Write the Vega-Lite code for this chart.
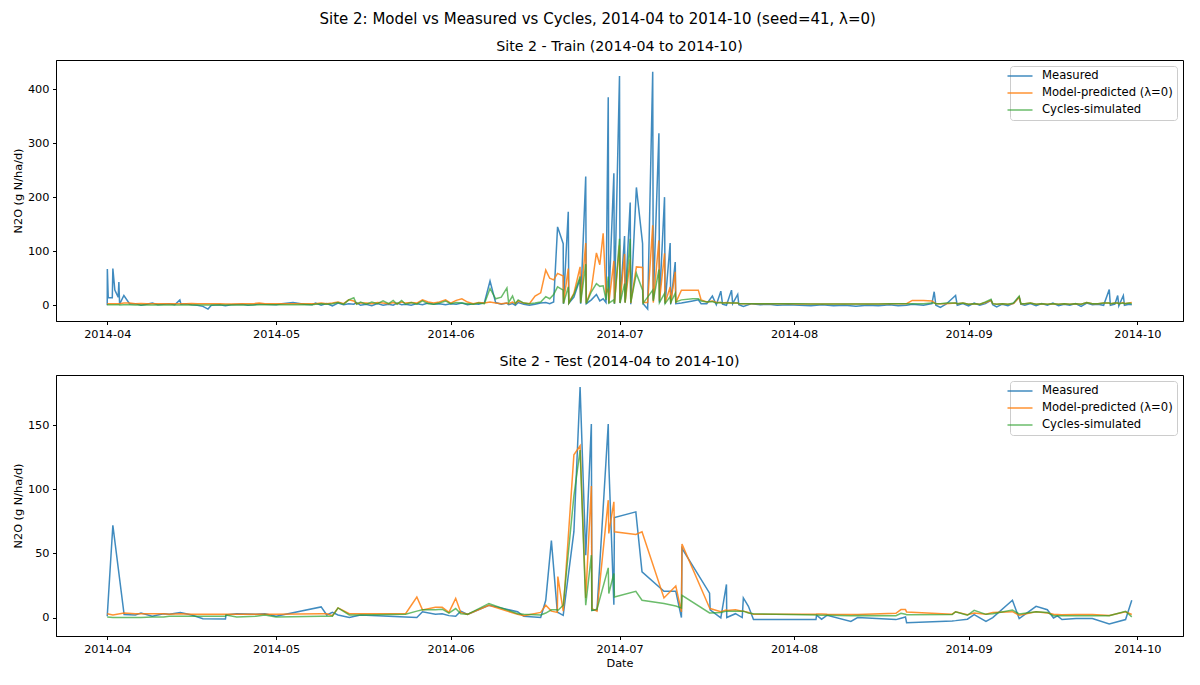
{
  "$schema": "https://vega.github.io/schema/vega-lite/v6.json",
  "background": "white",
  "padding": {"left": 11, "top": 12, "right": 13, "bottom": 11},
  "title": {"text": "Site 2: Model vs Measured vs Cycles, 2014-04 to 2014-10 (seed=41, λ=0)", "fontSize": 15, "font": "DejaVu Sans", "fontWeight": "normal", "color": "black", "anchor": "middle", "offset": 12},
  "config": {
    "font": "DejaVu Sans",
    "view": {"stroke": "black", "strokeWidth": 1},
    "axis": {"grid": false, "domainColor": "black", "tickColor": "black", "labelColor": "black", "titleColor": "black", "tickSize": 3.5, "labelPadding": 3.5, "labelFont": "DejaVu Sans", "labelFontSize": 11.3, "titleFont": "DejaVu Sans", "titleFontSize": 11.3, "titleFontWeight": "normal", "domainWidth": 1, "tickWidth": 1},
    "title": {"fontSize": 14.2, "fontWeight": "normal", "font": "DejaVu Sans", "color": "black", "offset": 6},
    "legend": {"orient": "top-right", "offset": 6, "title": null, "symbolType": "M-2.5,0L2.5,0", "symbolSize": 100, "symbolStrokeWidth": 1.5, "labelFont": "DejaVu Sans", "labelFontSize": 11.6, "labelColor": "black", "fillColor": "rgba(255,255,255,0.8)", "strokeColor": "#cccccc", "cornerRadius": 3, "padding": 4, "rowPadding": 5, "labelOffset": 16, "labelLimit": 300}
  },
  "spacing": 14,
  "resolve": {"scale": {"x": "independent", "y": "independent", "color": "independent"}, "legend": {"color": "independent"}},
  "vconcat": [
    {
      "title": {"text": "Site 2 - Train (2014-04 to 2014-10)"},
      "width": 1127,
      "height": 261,
      "data": {
        "format": {"parse": {"date": "utc:'%Y-%m-%d %H:%M'"}},
        "values": [
          {"date":"2014-04-01 00:00","measured":0,"model":3,"cycles":1},
          {"date":"2014-04-01 00:30","measured":67,"model":3,"cycles":1},
          {"date":"2014-04-01 04:20","measured":14,"model":3,"cycles":1},
          {"date":"2014-04-01 21:36","measured":14,"model":3,"cycles":1},
          {"date":"2014-04-02 00:00","measured":68,"model":3,"cycles":1},
          {"date":"2014-04-02 08:24","measured":28,"model":3,"cycles":1},
          {"date":"2014-04-02 22:48","measured":15,"model":3,"cycles":1},
          {"date":"2014-04-03 01:41","measured":43,"model":3,"cycles":1},
          {"date":"2014-04-03 04:48","measured":2,"model":3,"cycles":0.5},
          {"date":"2014-04-03 23:02","measured":18,"model":4,"cycles":1},
          {"date":"2014-04-04 23:02","measured":3,"model":4,"cycles":1},
          {"date":"2014-04-06 00:00","measured":3,"model":3,"cycles":0.5},
          {"date":"2014-04-07 00:00","measured":0,"model":3.5,"cycles":0.5},
          {"date":"2014-04-08 00:00","measured":2,"model":3,"cycles":0.5},
          {"date":"2014-04-09 00:00","measured":4,"model":3,"cycles":0.5},
          {"date":"2014-04-10 00:00","measured":1,"model":3,"cycles":0.5},
          {"date":"2014-04-11 00:00","measured":2,"model":3,"cycles":0.5},
          {"date":"2014-04-12 00:00","measured":3,"model":3,"cycles":0.5},
          {"date":"2014-04-13 00:00","measured":1,"model":3,"cycles":0.5},
          {"date":"2014-04-13 21:36","measured":10,"model":3,"cycles":0.5},
          {"date":"2014-04-14 02:24","measured":2,"model":3,"cycles":0.5},
          {"date":"2014-04-15 00:00","measured":3,"model":3,"cycles":0.5},
          {"date":"2014-04-16 00:00","measured":1,"model":3.5,"cycles":0.5},
          {"date":"2014-04-17 00:00","measured":0,"model":3,"cycles":0.5},
          {"date":"2014-04-18 00:00","measured":-2,"model":3,"cycles":0.5},
          {"date":"2014-04-18 21:36","measured":-7,"model":3,"cycles":0.5},
          {"date":"2014-04-19 12:00","measured":0,"model":3,"cycles":0.5},
          {"date":"2014-04-21 00:00","measured":1,"model":3,"cycles":0.5},
          {"date":"2014-04-22 00:00","measured":-1,"model":2.5,"cycles":0.5},
          {"date":"2014-04-23 00:00","measured":1,"model":2.5,"cycles":0.5},
          {"date":"2014-04-25 00:00","measured":2,"model":3,"cycles":0.5},
          {"date":"2014-04-26 00:00","measured":0,"model":3,"cycles":0.5},
          {"date":"2014-04-27 00:00","measured":1,"model":3,"cycles":0.5},
          {"date":"2014-04-28 00:00","measured":3,"model":4,"cycles":1},
          {"date":"2014-04-29 00:00","measured":2,"model":3,"cycles":1},
          {"date":"2014-05-01 00:00","measured":1,"model":3,"cycles":1},
          {"date":"2014-05-02 00:00","measured":3,"model":3,"cycles":1},
          {"date":"2014-05-04 00:00","measured":5,"model":3,"cycles":1},
          {"date":"2014-05-06 00:00","measured":2,"model":3,"cycles":1.5},
          {"date":"2014-05-07 09:36","measured":1,"model":3,"cycles":1},
          {"date":"2014-05-08 00:00","measured":4,"model":3,"cycles":2},
          {"date":"2014-05-09 00:00","measured":0,"model":4,"cycles":3},
          {"date":"2014-05-10 00:00","measured":3,"model":3,"cycles":2},
          {"date":"2014-05-11 00:00","measured":-1,"model":4,"cycles":3},
          {"date":"2014-05-12 00:00","measured":4,"model":6,"cycles":5},
          {"date":"2014-05-13 00:00","measured":1,"model":3,"cycles":2},
          {"date":"2014-05-13 21:36","measured":3,"model":10,"cycles":10},
          {"date":"2014-05-14 19:12","measured":2,"model":8,"cycles":14},
          {"date":"2014-05-15 07:12","measured":5,"model":3,"cycles":2},
          {"date":"2014-05-16 00:00","measured":0,"model":4,"cycles":6},
          {"date":"2014-05-17 00:00","measured":2,"model":4,"cycles":2},
          {"date":"2014-05-18 00:00","measured":-1,"model":3,"cycles":6},
          {"date":"2014-05-19 00:00","measured":3,"model":5,"cycles":3},
          {"date":"2014-05-20 00:00","measured":0,"model":4,"cycles":8},
          {"date":"2014-05-21 00:00","measured":2,"model":3,"cycles":3},
          {"date":"2014-05-21 19:12","measured":0,"model":5,"cycles":9},
          {"date":"2014-05-22 12:00","measured":4,"model":3,"cycles":2},
          {"date":"2014-05-23 07:12","measured":1,"model":6,"cycles":9},
          {"date":"2014-05-24 00:00","measured":2,"model":4,"cycles":2},
          {"date":"2014-05-25 00:00","measured":0,"model":5,"cycles":5},
          {"date":"2014-05-26 00:00","measured":3,"model":4,"cycles":2},
          {"date":"2014-05-27 00:00","measured":1,"model":10,"cycles":8},
          {"date":"2014-05-28 00:00","measured":4,"model":6,"cycles":3},
          {"date":"2014-05-29 00:00","measured":2,"model":4,"cycles":2},
          {"date":"2014-05-30 00:00","measured":3,"model":6,"cycles":4},
          {"date":"2014-05-31 02:24","measured":1,"model":10,"cycles":8},
          {"date":"2014-06-01 00:00","measured":3,"model":4,"cycles":3},
          {"date":"2014-06-02 00:00","measured":2,"model":9,"cycles":5},
          {"date":"2014-06-03 00:00","measured":4,"model":12,"cycles":4},
          {"date":"2014-06-04 00:00","measured":1,"model":6,"cycles":3},
          {"date":"2014-06-05 00:00","measured":3,"model":3,"cycles":2},
          {"date":"2014-06-06 00:00","measured":2,"model":5,"cycles":4},
          {"date":"2014-06-07 00:00","measured":5,"model":4,"cycles":3},
          {"date":"2014-06-08 00:00","measured":45,"model":6,"cycles":31},
          {"date":"2014-06-09 00:00","measured":5,"model":4,"cycles":12},
          {"date":"2014-06-10 00:00","measured":2,"model":3,"cycles":15},
          {"date":"2014-06-11 00:00","measured":4,"model":4,"cycles":32},
          {"date":"2014-06-11 07:12","measured":1,"model":3,"cycles":5},
          {"date":"2014-06-12 00:00","measured":3,"model":6,"cycles":17},
          {"date":"2014-06-12 12:00","measured":0,"model":3,"cycles":3},
          {"date":"2014-06-13 00:00","measured":5,"model":8,"cycles":10},
          {"date":"2014-06-14 00:00","measured":2,"model":4,"cycles":4},
          {"date":"2014-06-15 00:00","measured":0,"model":3,"cycles":3},
          {"date":"2014-06-16 00:00","measured":2,"model":17,"cycles":4},
          {"date":"2014-06-17 00:00","measured":4,"model":23,"cycles":6},
          {"date":"2014-06-17 21:36","measured":5,"model":65,"cycles":16},
          {"date":"2014-06-18 14:24","measured":3,"model":50,"cycles":12},
          {"date":"2014-06-19 07:12","measured":6,"model":47,"cycles":20},
          {"date":"2014-06-20 00:00","measured":145,"model":59,"cycles":34},
          {"date":"2014-06-21 00:00","measured":114,"model":54,"cycles":28},
          {"date":"2014-06-21 01:12","measured":3,"model":4,"cycles":3},
          {"date":"2014-06-21 21:36","measured":173,"model":68,"cycles":34},
          {"date":"2014-06-22 00:00","measured":4,"model":5,"cycles":4},
          {"date":"2014-06-22 21:36","measured":15,"model":22,"cycles":20},
          {"date":"2014-06-24 00:00","measured":49,"model":71,"cycles":53},
          {"date":"2014-06-24 02:24","measured":3,"model":5,"cycles":4},
          {"date":"2014-06-25 00:00","measured":238,"model":115,"cycles":76},
          {"date":"2014-06-25 02:24","measured":3,"model":4,"cycles":3},
          {"date":"2014-06-26 00:00","measured":10,"model":30,"cycles":25},
          {"date":"2014-06-26 21:36","measured":20,"model":97,"cycles":40},
          {"date":"2014-06-27 12:00","measured":8,"model":75,"cycles":35},
          {"date":"2014-06-28 02:24","measured":12,"model":133,"cycles":36},
          {"date":"2014-06-28 14:24","measured":5,"model":22,"cycles":10},
          {"date":"2014-06-29 00:00","measured":385,"model":30,"cycles":53},
          {"date":"2014-06-29 02:24","measured":4,"model":4,"cycles":4},
          {"date":"2014-06-30 00:00","measured":244,"model":82,"cycles":10},
          {"date":"2014-06-30 02:24","measured":3,"model":4,"cycles":3},
          {"date":"2014-07-01 00:00","measured":424,"model":111,"cycles":123},
          {"date":"2014-07-01 02:24","measured":4,"model":5,"cycles":4},
          {"date":"2014-07-01 21:36","measured":128,"model":95,"cycles":40},
          {"date":"2014-07-02 00:00","measured":5,"model":5,"cycles":5},
          {"date":"2014-07-02 21:36","measured":190,"model":85,"cycles":123},
          {"date":"2014-07-03 00:00","measured":2,"model":4,"cycles":5},
          {"date":"2014-07-04 00:00","measured":218,"model":71,"cycles":59},
          {"date":"2014-07-05 02:24","measured":114,"model":70,"cycles":28},
          {"date":"2014-07-05 04:48","measured":3,"model":5,"cycles":4},
          {"date":"2014-07-06 00:00","measured":-7,"model":5,"cycles":15},
          {"date":"2014-07-06 21:36","measured":432,"model":148,"cycles":28},
          {"date":"2014-07-07 00:00","measured":10,"model":5,"cycles":8},
          {"date":"2014-07-08 00:00","measured":318,"model":120,"cycles":66},
          {"date":"2014-07-08 02:24","measured":5,"model":8,"cycles":5},
          {"date":"2014-07-09 00:00","measured":200,"model":96,"cycles":22},
          {"date":"2014-07-09 02:24","measured":3,"model":4,"cycles":3},
          {"date":"2014-07-10 00:00","measured":115,"model":34,"cycles":16},
          {"date":"2014-07-10 02:24","measured":2,"model":4,"cycles":5},
          {"date":"2014-07-10 21:36","measured":80,"model":62,"cycles":22},
          {"date":"2014-07-11 00:00","measured":3,"model":5,"cycles":6},
          {"date":"2014-07-12 00:00","measured":4,"model":28,"cycles":10},
          {"date":"2014-07-14 00:00","measured":8,"model":28,"cycles":12},
          {"date":"2014-07-15 00:00","measured":10,"model":28,"cycles":12},
          {"date":"2014-07-15 12:00","measured":3,"model":10,"cycles":8},
          {"date":"2014-07-16 12:00","measured":3,"model":6,"cycles":6},
          {"date":"2014-07-17 12:00","measured":17,"model":8,"cycles":7},
          {"date":"2014-07-18 04:48","measured":1,"model":5,"cycles":4},
          {"date":"2014-07-19 00:00","measured":26,"model":5,"cycles":5},
          {"date":"2014-07-19 07:12","measured":2,"model":4,"cycles":4},
          {"date":"2014-07-20 00:00","measured":0,"model":5,"cycles":4},
          {"date":"2014-07-20 21:36","measured":28,"model":4,"cycles":4},
          {"date":"2014-07-21 02:24","measured":3,"model":4,"cycles":4},
          {"date":"2014-07-22 00:00","measured":20,"model":4,"cycles":4},
          {"date":"2014-07-22 04:48","measured":1,"model":3,"cycles":3},
          {"date":"2014-07-23 00:00","measured":-2,"model":3,"cycles":3},
          {"date":"2014-07-24 12:00","measured":3,"model":3,"cycles":3},
          {"date":"2014-07-26 00:00","measured":1,"model":3,"cycles":3},
          {"date":"2014-07-27 12:00","measured":2,"model":3,"cycles":3},
          {"date":"2014-07-29 00:00","measured":0,"model":3,"cycles":3},
          {"date":"2014-07-31 00:00","measured":1,"model":3,"cycles":3},
          {"date":"2014-08-02 00:00","measured":0,"model":2.5,"cycles":3},
          {"date":"2014-08-04 00:00","measured":-1,"model":2.5,"cycles":2.5},
          {"date":"2014-08-06 00:00","measured":1,"model":2.5,"cycles":2.5},
          {"date":"2014-08-08 00:00","measured":-1,"model":2.5,"cycles":2.5},
          {"date":"2014-08-10 00:00","measured":0,"model":2.5,"cycles":2.5},
          {"date":"2014-08-12 00:00","measured":-2,"model":2.5,"cycles":2.5},
          {"date":"2014-08-14 00:00","measured":0,"model":2.5,"cycles":2.5},
          {"date":"2014-08-16 00:00","measured":-1,"model":2.5,"cycles":2.5},
          {"date":"2014-08-18 00:00","measured":1,"model":3,"cycles":3},
          {"date":"2014-08-19 12:00","measured":-1,"model":3,"cycles":3},
          {"date":"2014-08-21 00:00","measured":0,"model":3,"cycles":3},
          {"date":"2014-08-22 00:00","measured":2,"model":9,"cycles":3},
          {"date":"2014-08-24 00:00","measured":0,"model":9,"cycles":3},
          {"date":"2014-08-25 12:00","measured":3,"model":8,"cycles":4},
          {"date":"2014-08-25 21:36","measured":25,"model":5,"cycles":4},
          {"date":"2014-08-26 04:48","measured":0,"model":3,"cycles":3},
          {"date":"2014-08-27 00:00","measured":-4,"model":3,"cycles":3},
          {"date":"2014-08-28 00:00","measured":2,"model":3,"cycles":4},
          {"date":"2014-08-29 16:48","measured":18,"model":4,"cycles":4},
          {"date":"2014-08-30 00:00","measured":0,"model":3,"cycles":3},
          {"date":"2014-08-31 00:00","measured":3,"model":4,"cycles":4},
          {"date":"2014-09-01 00:00","measured":-1,"model":2,"cycles":2},
          {"date":"2014-09-02 00:00","measured":4,"model":3,"cycles":3},
          {"date":"2014-09-03 00:00","measured":0,"model":2,"cycles":2},
          {"date":"2014-09-04 00:00","measured":3,"model":5,"cycles":6},
          {"date":"2014-09-05 00:00","measured":9,"model":9,"cycles":11},
          {"date":"2014-09-05 07:12","measured":1,"model":3,"cycles":3},
          {"date":"2014-09-06 00:00","measured":-3,"model":2,"cycles":2},
          {"date":"2014-09-07 00:00","measured":2,"model":3,"cycles":3},
          {"date":"2014-09-08 00:00","measured":-1,"model":2,"cycles":2},
          {"date":"2014-09-09 00:00","measured":4,"model":3,"cycles":4},
          {"date":"2014-09-10 00:00","measured":15,"model":15,"cycles":17},
          {"date":"2014-09-10 07:12","measured":2,"model":3,"cycles":3},
          {"date":"2014-09-11 00:00","measured":0,"model":3,"cycles":3},
          {"date":"2014-09-12 00:00","measured":3,"model":4,"cycles":4},
          {"date":"2014-09-13 00:00","measured":-1,"model":2,"cycles":2},
          {"date":"2014-09-14 00:00","measured":3,"model":3,"cycles":3},
          {"date":"2014-09-15 00:00","measured":0,"model":2,"cycles":2},
          {"date":"2014-09-16 00:00","measured":4,"model":3,"cycles":3},
          {"date":"2014-09-17 00:00","measured":-1,"model":2,"cycles":2},
          {"date":"2014-09-18 00:00","measured":2,"model":3,"cycles":3},
          {"date":"2014-09-19 00:00","measured":0,"model":2,"cycles":2},
          {"date":"2014-09-20 00:00","measured":3,"model":3,"cycles":3},
          {"date":"2014-09-21 00:00","measured":-2,"model":2,"cycles":2},
          {"date":"2014-09-22 00:00","measured":4,"model":5,"cycles":5},
          {"date":"2014-09-23 00:00","measured":1,"model":3,"cycles":3},
          {"date":"2014-09-24 00:00","measured":2,"model":3,"cycles":3},
          {"date":"2014-09-25 00:00","measured":0,"model":4,"cycles":4},
          {"date":"2014-09-26 00:00","measured":29,"model":4,"cycles":4},
          {"date":"2014-09-26 04:48","measured":0,"model":3,"cycles":3},
          {"date":"2014-09-27 00:00","measured":2,"model":4,"cycles":4},
          {"date":"2014-09-27 12:00","measured":18,"model":4,"cycles":4},
          {"date":"2014-09-27 16:48","measured":-1,"model":3,"cycles":3},
          {"date":"2014-09-28 12:00","measured":18,"model":5,"cycles":4},
          {"date":"2014-09-28 16:48","measured":0,"model":3,"cycles":3},
          {"date":"2014-09-29 12:00","measured":2,"model":4,"cycles":4},
          {"date":"2014-09-30 00:00","measured":1,"model":5,"cycles":3}
        ]
      },
      "encoding": {
        "x": {"field": "date", "type": "temporal", "title": null,
          "scale": {"type": "utc", "domain": [{"year": 2014, "month": 3, "date": 22, "hours": 21, "minutes": 36, "utc": true}, {"year": 2014, "month": 10, "date": 9, "hours": 2, "minutes": 24, "utc": true}]},
          "axis": {"labelExpr": "utcFormat(datum.value, '%Y-%m')", "values": [{"year": 2014, "month": 4, "date": 1, "utc": true}, {"year": 2014, "month": 5, "date": 1, "utc": true}, {"year": 2014, "month": 6, "date": 1, "utc": true}, {"year": 2014, "month": 7, "date": 1, "utc": true}, {"year": 2014, "month": 8, "date": 1, "utc": true}, {"year": 2014, "month": 9, "date": 1, "utc": true}, {"year": 2014, "month": 10, "date": 1, "utc": true}]}}
      },
      "layer": [
        {"mark": {"type": "line", "strokeWidth": 1.5},
         "encoding": {"y": {"field": "measured", "type": "quantitative", "title": "N2O (g N/ha/d)", "scale": {"domain": [-29.1, 453.7], "nice": false, "zero": false}, "axis": {"values": [0, 100, 200, 300, 400]}},
           "color": {"datum": "Measured", "type": "nominal", "scale": {"domain": ["Measured", "Model-predicted (λ=0)", "Cycles-simulated"], "range": ["rgba(31,119,180,0.85)", "rgba(255,127,14,0.85)", "rgba(44,160,44,0.7)"]}}}},
        {"mark": {"type": "line", "strokeWidth": 1.5},
         "encoding": {"y": {"field": "model", "type": "quantitative"},
           "color": {"datum": "Model-predicted (λ=0)", "type": "nominal"}}},
        {"mark": {"type": "line", "strokeWidth": 1.5},
         "encoding": {"y": {"field": "cycles", "type": "quantitative"},
           "color": {"datum": "Cycles-simulated", "type": "nominal"}}}
      ]
    },
    {
      "title": {"text": "Site 2 - Test (2014-04 to 2014-10)"},
      "width": 1127,
      "height": 261,
      "data": {
        "format": {"parse": {"date": "utc:'%Y-%m-%d %H:%M'"}},
        "values": [
          {"date":"2014-04-01 00:00","measured":1,"model":3,"cycles":0.5},
          {"date":"2014-04-02 00:00","measured":72,"model":2,"cycles":0},
          {"date":"2014-04-04 00:00","measured":2.3,"model":3.5,"cycles":0},
          {"date":"2014-04-06 00:00","measured":2,"model":3,"cycles":0},
          {"date":"2014-04-07 00:00","measured":3.5,"model":3,"cycles":0},
          {"date":"2014-04-09 00:00","measured":1,"model":3,"cycles":0.5},
          {"date":"2014-04-11 00:00","measured":3,"model":3,"cycles":0.5},
          {"date":"2014-04-12 00:00","measured":2.5,"model":2.5,"cycles":1},
          {"date":"2014-04-14 00:00","measured":4,"model":3,"cycles":1},
          {"date":"2014-04-16 00:00","measured":2,"model":2.5,"cycles":1},
          {"date":"2014-04-18 00:00","measured":-1,"model":2.5,"cycles":1},
          {"date":"2014-04-22 00:00","measured":-1.2,"model":2.5,"cycles":1},
          {"date":"2014-04-22 02:24","measured":2,"model":2.5,"cycles":2},
          {"date":"2014-04-24 00:00","measured":3,"model":2.5,"cycles":0.5},
          {"date":"2014-04-27 09:36","measured":2.5,"model":2.5,"cycles":1},
          {"date":"2014-04-29 00:00","measured":3,"model":2.5,"cycles":2},
          {"date":"2014-05-01 00:00","measured":1,"model":2.5,"cycles":0.5},
          {"date":"2014-05-09 00:00","measured":8.3,"model":3,"cycles":1},
          {"date":"2014-05-10 00:00","measured":2,"model":3,"cycles":1},
          {"date":"2014-05-11 00:00","measured":4,"model":1.5,"cycles":1},
          {"date":"2014-05-12 00:00","measured":2,"model":7.5,"cycles":7.5},
          {"date":"2014-05-14 00:00","measured":0,"model":3,"cycles":2},
          {"date":"2014-05-16 00:00","measured":2,"model":3,"cycles":2},
          {"date":"2014-05-24 00:00","measured":0.5,"model":3,"cycles":2.5},
          {"date":"2014-05-26 00:00","measured":0,"model":16,"cycles":5},
          {"date":"2014-05-27 00:00","measured":4.5,"model":6,"cycles":6},
          {"date":"2014-05-29 07:12","measured":2.5,"model":8,"cycles":6},
          {"date":"2014-05-30 12:00","measured":3,"model":8,"cycles":6.5},
          {"date":"2014-05-31 16:48","measured":1.5,"model":4,"cycles":3.5},
          {"date":"2014-06-01 21:36","measured":1,"model":15,"cycles":7},
          {"date":"2014-06-02 19:12","measured":5,"model":4,"cycles":3},
          {"date":"2014-06-04 00:00","measured":2.5,"model":2.5,"cycles":2.5},
          {"date":"2014-06-07 19:12","measured":9.5,"model":9.5,"cycles":11},
          {"date":"2014-06-12 21:36","measured":4.5,"model":2.5,"cycles":3},
          {"date":"2014-06-14 00:00","measured":1,"model":1.5,"cycles":2.5},
          {"date":"2014-06-17 00:00","measured":0,"model":4,"cycles":2},
          {"date":"2014-06-17 21:36","measured":13.5,"model":9.6,"cycles":3.5},
          {"date":"2014-06-18 21:36","measured":60,"model":5,"cycles":6},
          {"date":"2014-06-19 22:48","measured":4.5,"model":4,"cycles":6},
          {"date":"2014-06-20 01:12","measured":4,"model":32,"cycles":5.5},
          {"date":"2014-06-21 00:00","measured":1.7,"model":5,"cycles":9.6},
          {"date":"2014-06-22 21:36","measured":67,"model":127,"cycles":95},
          {"date":"2014-06-24 00:00","measured":180,"model":134,"cycles":130.7},
          {"date":"2014-06-25 00:00","measured":48.7,"model":15.3,"cycles":9.6},
          {"date":"2014-06-26 00:00","measured":151,"model":102.6,"cycles":48.7},
          {"date":"2014-06-26 02:24","measured":5.7,"model":7,"cycles":5.5},
          {"date":"2014-06-27 00:00","measured":5.7,"model":5,"cycles":6.5},
          {"date":"2014-06-29 00:00","measured":151,"model":91.6,"cycles":38.8},
          {"date":"2014-06-29 02:24","measured":120,"model":65.6,"cycles":18.8},
          {"date":"2014-06-30 00:00","measured":10,"model":90.3,"cycles":34.4},
          {"date":"2014-06-30 02:24","measured":78,"model":66.9,"cycles":16.1},
          {"date":"2014-07-03 21:36","measured":82.5,"model":64.8,"cycles":20.5},
          {"date":"2014-07-05 00:00","measured":35.6,"model":67,"cycles":13.5},
          {"date":"2014-07-08 21:36","measured":20.5,"model":15.3,"cycles":10.9},
          {"date":"2014-07-11 00:00","measured":20.5,"model":24.7,"cycles":9},
          {"date":"2014-07-12 00:00","measured":0,"model":4.4,"cycles":7.5},
          {"date":"2014-07-12 02:24","measured":54,"model":57.3,"cycles":17.4},
          {"date":"2014-07-17 00:00","measured":19,"model":7.5,"cycles":3.6},
          {"date":"2014-07-17 02:24","measured":6,"model":7,"cycles":3.6},
          {"date":"2014-07-19 00:00","measured":-0.3,"model":4.5,"cycles":4},
          {"date":"2014-07-20 00:00","measured":25.8,"model":6,"cycles":5},
          {"date":"2014-07-20 01:12","measured":0,"model":5.5,"cycles":5},
          {"date":"2014-07-21 14:24","measured":3,"model":6,"cycles":5},
          {"date":"2014-07-22 19:12","measured":0,"model":5,"cycles":5},
          {"date":"2014-07-23 00:00","measured":15.3,"model":5,"cycles":5},
          {"date":"2014-07-23 21:36","measured":8.8,"model":4,"cycles":3.5},
          {"date":"2014-07-24 19:12","measured":-1.6,"model":2.5,"cycles":3},
          {"date":"2014-08-04 21:36","measured":-1.6,"model":2.5,"cycles":2},
          {"date":"2014-08-05 00:00","measured":1.8,"model":2.8,"cycles":2},
          {"date":"2014-08-05 21:36","measured":-1.3,"model":2.8,"cycles":1.8},
          {"date":"2014-08-06 21:36","measured":1.8,"model":2.6,"cycles":1.8},
          {"date":"2014-08-11 02:24","measured":-3,"model":2.4,"cycles":1.5},
          {"date":"2014-08-12 07:12","measured":0,"model":2.3,"cycles":1.6},
          {"date":"2014-08-19 02:24","measured":-1.6,"model":3.3,"cycles":1.5},
          {"date":"2014-08-20 00:00","measured":-0.5,"model":6.2,"cycles":3.3},
          {"date":"2014-08-20 19:12","measured":0.5,"model":6.2,"cycles":2.5},
          {"date":"2014-08-21 00:00","measured":-4,"model":4.4,"cycles":2.2},
          {"date":"2014-08-29 02:24","measured":-2.6,"model":2.6,"cycles":2.4},
          {"date":"2014-08-29 16:48","measured":-2.4,"model":4.5,"cycles":4.5},
          {"date":"2014-08-31 19:12","measured":-1.3,"model":2.2,"cycles":1.8},
          {"date":"2014-09-02 00:00","measured":2.3,"model":3.5,"cycles":5.6},
          {"date":"2014-09-04 02:24","measured":-3,"model":2.5,"cycles":2.5},
          {"date":"2014-09-05 07:12","measured":0,"model":4,"cycles":3},
          {"date":"2014-09-08 19:12","measured":13.5,"model":4.6,"cycles":5.9},
          {"date":"2014-09-10 00:00","measured":-0.8,"model":1.8,"cycles":2.8},
          {"date":"2014-09-13 00:00","measured":8.8,"model":4.5,"cycles":4.5},
          {"date":"2014-09-15 00:00","measured":6.1,"model":3.6,"cycles":4},
          {"date":"2014-09-16 02:24","measured":-0.3,"model":2.6,"cycles":1.5},
          {"date":"2014-09-16 19:12","measured":1.3,"model":2.4,"cycles":1.5},
          {"date":"2014-09-17 14:24","measured":-1.6,"model":2.2,"cycles":1.5},
          {"date":"2014-09-20 02:24","measured":-0.8,"model":2.3,"cycles":1.5},
          {"date":"2014-09-23 00:00","measured":-0.8,"model":2.3,"cycles":1.5},
          {"date":"2014-09-26 00:00","measured":-5,"model":1.6,"cycles":1.5},
          {"date":"2014-09-28 21:36","measured":-1.6,"model":4.5,"cycles":4.9},
          {"date":"2014-09-30 00:00","measured":13.5,"model":2.4,"cycles":0.5}
        ]
      },
      "encoding": {
        "x": {"field": "date", "type": "temporal", "title": "Date",
          "scale": {"type": "utc", "domain": [{"year": 2014, "month": 3, "date": 22, "hours": 21, "minutes": 36, "utc": true}, {"year": 2014, "month": 10, "date": 9, "hours": 2, "minutes": 24, "utc": true}]},
          "axis": {"labelExpr": "utcFormat(datum.value, '%Y-%m')", "titlePadding": 3, "values": [{"year": 2014, "month": 4, "date": 1, "utc": true}, {"year": 2014, "month": 5, "date": 1, "utc": true}, {"year": 2014, "month": 6, "date": 1, "utc": true}, {"year": 2014, "month": 7, "date": 1, "utc": true}, {"year": 2014, "month": 8, "date": 1, "utc": true}, {"year": 2014, "month": 9, "date": 1, "utc": true}, {"year": 2014, "month": 10, "date": 1, "utc": true}]}}
      },
      "layer": [
        {"mark": {"type": "line", "strokeWidth": 1.5},
         "encoding": {"y": {"field": "measured", "type": "quantitative", "title": "N2O (g N/ha/d)", "scale": {"domain": [-14.4, 189.3], "nice": false, "zero": false}, "axis": {"values": [0, 25, 50, 75, 100, 125, 150, 175]}},
           "color": {"datum": "Measured", "type": "nominal", "scale": {"domain": ["Measured", "Model-predicted (λ=0)", "Cycles-simulated"], "range": ["rgba(31,119,180,0.85)", "rgba(255,127,14,0.85)", "rgba(44,160,44,0.7)"]}}}},
        {"mark": {"type": "line", "strokeWidth": 1.5},
         "encoding": {"y": {"field": "model", "type": "quantitative"},
           "color": {"datum": "Model-predicted (λ=0)", "type": "nominal"}}},
        {"mark": {"type": "line", "strokeWidth": 1.5},
         "encoding": {"y": {"field": "cycles", "type": "quantitative"},
           "color": {"datum": "Cycles-simulated", "type": "nominal"}}}
      ]
    }
  ]
}
